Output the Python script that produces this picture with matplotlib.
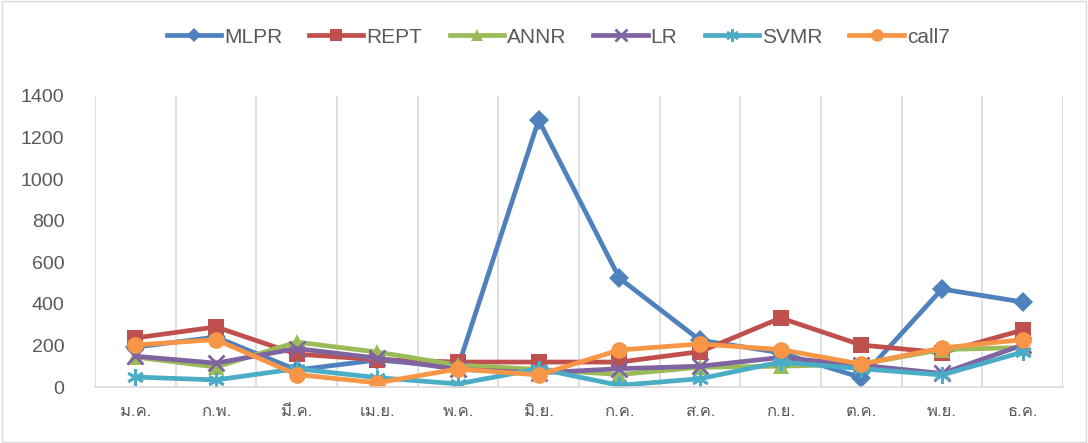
import numpy as np
import matplotlib.pyplot as plt
from matplotlib import font_manager
from matplotlib.ft2font import FT2Font

months = ['ม.ค.', 'ก.พ.', 'มี.ค.', 'เม.ย.', 'พ.ค.', 'มิ.ย.',
          'ก.ค.', 'ส.ค.', 'ก.ย.', 'ต.ค.', 'พ.ย.', 'ธ.ค.']

mlpr = [192, 240, 82, 130, 96, 1284, 524, 225, 165, 45, 471, 409]
rept = [236, 289, 158, 132, 120, 120, 120, 170, 332, 202, 165, 274]
annr = [144, 96, 216, 168, 105, 85, 60, 95, 100, 110, 180, 190]
lr = [148, 115, 185, 139, 85, 68, 88, 100, 142, 105, 65, 202]
svmr = [48, 34, 88, 45, 15, 88, 8, 40, 120, 88, 58, 168]
call7 = [202, 228, 60, 20, 87, 58, 178, 207, 180, 110, 188, 228]


# find an installed font that has Thai glyphs
def thai_font():
    for f in font_manager.fontManager.ttflist:
        try:
            ft = FT2Font(f.fname)
            if ft.get_char_index(0x0E21) and ft.get_char_index(0x0E04):
                return f.name
        except Exception:
            pass
    return 'DejaVu Sans'


thai = thai_font()
plt.rcParams['font.family'] = ['Liberation Sans', 'DejaVu Sans']

series = [
    ('MLPR', mlpr, '#4F81BD', 'D', 10),
    ('REPT', rept, '#C0504D', 's', 11),
    ('ANNR', annr, '#9BBB59', '^', 11),
    ('LR', lr, '#8064A2', 'x', 11),
    ('SVMR', svmr, '#4BACC6', (6, 2, 0), 12),
    ('call7', call7, '#F79646', 'o', 12),
]

fig = plt.figure(figsize=(10.88, 4.43), dpi=100)
ax = fig.add_axes([0.0873, 0.1264, 0.8897, 0.6569])

x = np.arange(len(months))
for name, vals, col, mk, ms in series:
    kw = dict(markeredgewidth=2) if mk in ('x', (6, 2, 0)) else dict(markeredgewidth=0)
    ax.plot(x, vals, color=col, lw=3.4, marker=mk, markersize=ms,
            markerfacecolor=col, markeredgecolor=col, label=name, **kw)

ax.set_xlim(-0.5, len(months) - 0.5)
ax.set_ylim(0, 1400)
ax.set_yticks(np.arange(0, 1401, 200))
ax.set_xticks(x)
ax.set_xticklabels(months, fontfamily=[thai, 'DejaVu Sans'], fontsize=12, color='#595959')
ax.tick_params(axis='y', labelsize=14, colors='#595959', length=0, pad=22)
ax.tick_params(axis='x', length=0, pad=12)

# vertical gridlines between categories
for b in np.arange(-0.5, len(months), 1.0):
    ax.axvline(b, color='#D9D9D9', lw=1.2, zorder=0)

for s in ['top', 'right', 'left']:
    ax.spines[s].set_visible(False)
ax.spines['bottom'].set_color('#D9D9D9')
ax.spines['bottom'].set_linewidth(1.2)

leg = fig.legend(loc='upper center', bbox_to_anchor=(0.513, 0.98), ncol=6, frameon=False,
                 fontsize=15, handlelength=2.6, columnspacing=1.3, handletextpad=0.15,
                 labelcolor='#595959', markerscale=0.75)

# chart border
fig.patches.append(plt.Rectangle((0.002, 0.003), 0.996, 0.994, transform=fig.transFigure,
                                 fill=False, edgecolor='#D9D9D9', lw=1))

fig.savefig('out.png', dpi=100)
